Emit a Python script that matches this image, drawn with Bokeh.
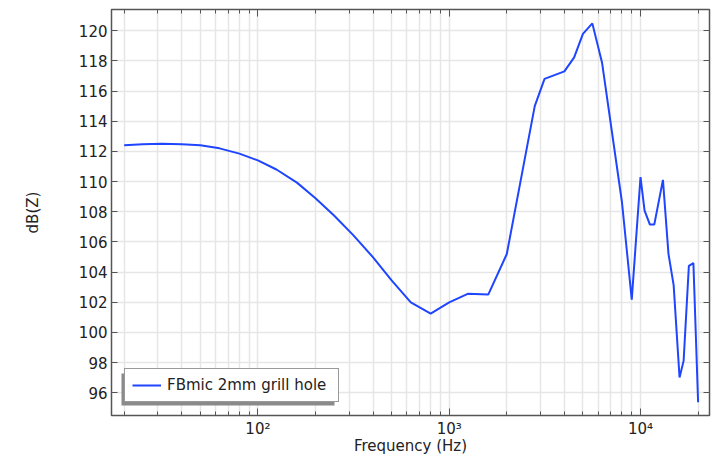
from bokeh.plotting import figure
from bokeh.models import (LogAxis, LinearAxis, FixedTicker, Legend, LegendItem,
                          Range1d, BoxAnnotation, CustomJSTickFormatter)
from bokeh.embed import file_html
from bokeh.resources import INLINE

# ---- data ----
freq_hz = [20, 25, 31.5, 40, 50, 63, 80, 100, 125, 160, 200, 250, 315, 400, 500,
           630, 800, 1000, 1250, 1600, 2000, 2500, 2800, 3150, 4000, 4500, 5000,
           5600, 6300, 8000, 9000, 10000, 10500, 11200, 11800, 13100, 14000,
           14900, 16000, 16800, 17900, 18900, 20000]
level_db = [112.40, 112.47, 112.50, 112.48, 112.40, 112.20, 111.85, 111.40, 110.80,
            109.93, 108.90, 107.75, 106.45, 104.98, 103.45, 102.00, 101.25, 102.00,
            102.56, 102.51, 105.20, 111.70, 115.00, 116.80, 117.30, 118.23, 119.78,
            120.48, 117.85, 108.63, 102.18, 110.30, 108.08, 107.15, 107.15, 110.11,
            105.21, 103.14, 97.02, 98.12, 104.42, 104.60, 95.38]
series_label = "FBmic 2mm grill hole"

x_major = [100, 1000, 10000]
x_major_labels = {100: "10²", 1000: "10³", 10000: "10⁴"}
x_minor = [20, 30, 40, 50, 60, 70, 80, 90,
           200, 300, 400, 500, 600, 700, 800, 900,
           2000, 3000, 4000, 5000, 6000, 7000, 8000, 9000, 20000]
y_ticks = [96, 98, 100, 102, 104, 106, 108, 110, 112, 114, 116, 118, 120]

FONT = "'DejaVu Sans'"
FSIZE = "15px"
AXIS_COLOR = "#555555"
TEXT_COLOR = "#222222"
GRID_COLOR = "#e6e6e6"
LINE_COLOR = "#1f45ff"

p = figure(width=720, height=459, x_axis_type="log",
           x_range=Range1d(17.17, 22942), y_range=Range1d(94.5, 121.4),
           output_backend="svg", toolbar_location=None,
           min_border_left=111, min_border_right=11, min_border_top=9,
           min_border_bottom=44)
p.outline_line_color = AXIS_COLOR
p.outline_line_width = 1.5
p.background_fill_color = "white"

# grids
p.xgrid.ticker = FixedTicker(ticks=x_major, minor_ticks=x_minor)
p.xgrid.grid_line_color = GRID_COLOR
p.xgrid.grid_line_width = 1.5
p.xgrid.minor_grid_line_color = GRID_COLOR
p.xgrid.minor_grid_line_width = 1.5
p.ygrid.ticker = FixedTicker(ticks=y_ticks)
p.ygrid.grid_line_color = GRID_COLOR
p.ygrid.grid_line_width = 1.5

# bottom axis
xa = p.below[0]
xa.ticker = FixedTicker(ticks=x_major, minor_ticks=x_minor)
xa.major_label_overrides = x_major_labels
xa.axis_label = "Frequency (Hz)"
xa.axis_label_text_font = FONT
xa.axis_label_text_font_style = "normal"
xa.axis_label_text_font_size = FSIZE
xa.axis_label_text_color = TEXT_COLOR
xa.axis_label_standoff = -4
xa.major_label_text_font = FONT
xa.major_label_text_font_size = FSIZE
xa.major_label_text_color = TEXT_COLOR
xa.major_label_standoff = 4
xa.major_tick_in = 7
xa.major_tick_out = 0
xa.minor_tick_in = 4
xa.minor_tick_out = 0
xa.axis_line_color = AXIS_COLOR
xa.major_tick_line_color = AXIS_COLOR
xa.minor_tick_line_color = AXIS_COLOR

# left axis
ya = p.left[0]
ya.ticker = FixedTicker(ticks=y_ticks)
ya.axis_label = "dB(Z)"
ya.axis_label_text_font = FONT
ya.axis_label_text_font_style = "normal"
ya.axis_label_text_font_size = FSIZE
ya.axis_label_text_color = TEXT_COLOR
ya.axis_label_standoff = 34
ya.major_label_text_font = FONT
ya.major_label_text_font_size = FSIZE
ya.major_label_text_color = TEXT_COLOR
ya.major_label_standoff = 4
ya.major_tick_in = 6
ya.major_tick_out = 0
ya.minor_tick_line_color = None
ya.axis_line_color = AXIS_COLOR
ya.major_tick_line_color = AXIS_COLOR

# mirrored axes (ticks only, empty labels)
top = LogAxis(ticker=FixedTicker(ticks=x_major, minor_ticks=x_minor),
              formatter=CustomJSTickFormatter(code="return ''"),
              major_label_text_font_size="1px", major_label_standoff=0,
              major_tick_in=7, major_tick_out=0, minor_tick_in=4, minor_tick_out=0,
              axis_line_color=AXIS_COLOR, major_tick_line_color=AXIS_COLOR,
              minor_tick_line_color=AXIS_COLOR)
p.add_layout(top, "above")
right = LinearAxis(ticker=FixedTicker(ticks=y_ticks),
                   formatter=CustomJSTickFormatter(code="return ''"),
                   major_label_text_font_size="1px", major_label_standoff=0,
                   major_tick_in=6, major_tick_out=0, minor_tick_line_color=None,
                   axis_line_color=AXIS_COLOR, major_tick_line_color=AXIS_COLOR)
p.add_layout(right, "right")

r = p.line(freq_hz, level_db, line_color=LINE_COLOR, line_width=2)

# legend shadow
shadow = BoxAnnotation(left=10, right=223, bottom=10, top=42,
                       left_units="screen", right_units="screen",
                       bottom_units="screen", top_units="screen",
                       fill_color="#8a8a8a", fill_alpha=1.0, line_color=None)
p.add_layout(shadow)

legend = Legend(items=[LegendItem(label=series_label, renderers=[r])],
                location=(13, 13), margin=0, padding=7, spacing=0,
                glyph_width=29, glyph_height=18, label_height=18,
                label_width=164, label_standoff=6, label_text_font=FONT,
                label_text_font_size=FSIZE, label_text_color=TEXT_COLOR,
                border_line_color="#333333", border_line_width=1.2,
                background_fill_color="white", background_fill_alpha=1.0)
p.add_layout(legend)

open("out.html", "w").write(file_html(p, INLINE))
